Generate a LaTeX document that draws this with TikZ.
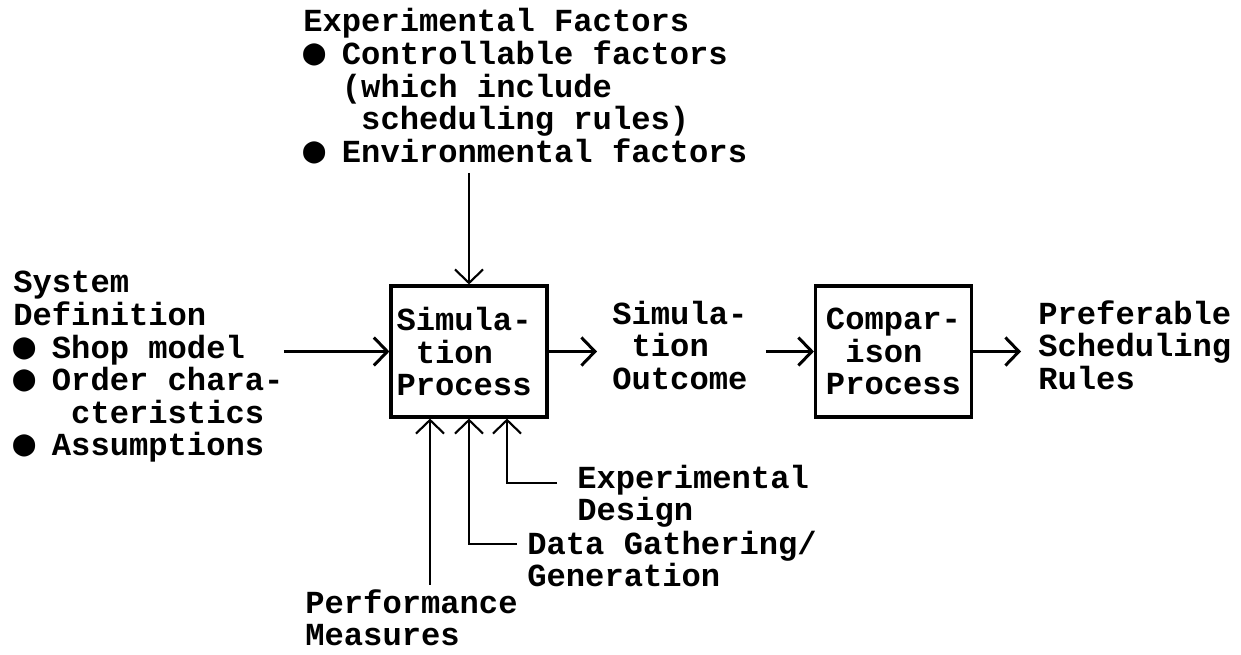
\documentclass[tikz,border=0pt]{standalone}
\usepackage{fontspec}
\setmainfont{Liberation Mono}
\newfontfamily\bulletfont{DejaVu Sans Mono}
\usepackage{tikz}
\usetikzlibrary{arrows.meta}
\usetikzlibrary{calc}

\newcommand{\bul}{\makebox[10.98pt][l]{\bulletfont\bfseries\fontsize{21pt}{18.5pt}\selectfont ●}}

\tikzset{
	every node/.style={font=\fontsize{18.3pt}{18.5pt}\selectfont\bfseries},
	lbl/.style={inner sep=0pt, align=left, anchor=base west},
	proc/.style={draw, line width=1.8pt, minimum width=3.12cm, minimum height=2.62cm, inner sep=0pt, align=left},
	arr/.style={-{Straight Barb[length=0.27cm,width=0.56cm]}, line width=1.7pt},
	thin/.style={line width=1.2pt}
}

\begin{document}
\begin{tikzpicture}[x=0.02cm,y=-0.02cm]
	\useasboundingbox (0,0) rectangle (1241,654);
		\coordinate (S) at (469,351.5);
		\coordinate (C) at (893.5,351.5);
		\coordinate (EF) at (303,162);
		\coordinate (SD) at (13,455.5);
		\coordinate (SO) at (612,389);
		\coordinate (PR) at (1038,389);
		\coordinate (PM) at (305,645.5);
		\coordinate (DG) at (527,586.5);
		\coordinate (ED) at (577,520.5);
		\node[proc, text width=2.9cm] (sim) at (S) {Simula-\\\hphantom{x}tion\\Process};
		\node[proc] (comp) at (C) {Compar-\\\hphantom{x}ison\\Process};
		\node[lbl] (exfac) at (EF) {Experimental Factors\\\bul\ Controllable factors\\\hphantom{xx}(which include\\\hphantom{xxx}scheduling rules)\\\bul\ Environmental factors};
		\node[lbl] (sysdef) at (SD) {System\\Definition\\\bul\ Shop model\\\bul\ Order chara-\\\hphantom{xxx}cteristics\\\bul\ Assumptions};
		\node[lbl] (outc) at (SO) {Simula-\\\hphantom{x}tion\\Outcome};
		\node[lbl] (pref) at (PR) {Preferable\\Scheduling\\Rules};
		\node[lbl] (perf) at (PM) {Performance\\Measures};
		\node[lbl] (data) at (DG) {Data Gathering/\\Generation};
		\node[lbl] (design) at (ED) {Experimental\\Design};
		\coordinate (P) at ([xshift=-0.78cm]sim.south);
		\coordinate (Q) at (sim.south);
		\coordinate (R) at ([xshift=0.76cm]sim.south);
		\draw[arr] (sysdef.east |- sim.west) -- (sim.west);
		\draw[arr, shorten >=0.3cm] (sim.east) -- (sim.east -| outc.west);
		\draw[arr, shorten <=0.36cm] (comp.west -| outc.east) -- (comp.west);
		\draw[arr, shorten >=0.34cm] (comp.east) -- (comp.east -| pref.west);
		\draw[arr, thin, shorten <=0.18cm] (sim.north |- exfac.south) -- (sim.north);
		\draw[arr, thin, shorten <=0.08cm] (P |- perf.north) -- (P);
		\draw[arr, thin] ([shift={(-0.2cm,0.85cm)}]data.base west) -| (Q);
		\draw[arr, thin] ([shift={(-0.4cm,0.75cm)}]design.base west) -| (R);
\end{tikzpicture}
\end{document}
